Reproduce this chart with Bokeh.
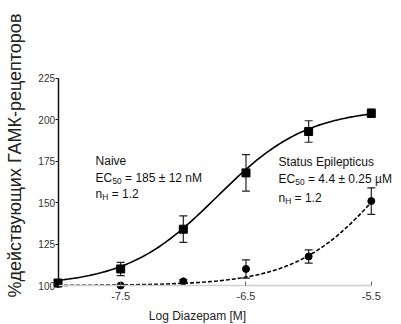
import numpy as np
from math import pi
from bokeh.plotting import figure
from bokeh.models import Label, Whisker, ColumnDataSource, FixedTicker, Range1d, TeeHead
from bokeh.embed import file_html
from bokeh.resources import INLINE

# ---- data ----
log_conc = [-8.0, -7.5, -7.0, -6.5, -6.0, -5.5]
naive_mean = [101.5, 110.0, 134.0, 168.0, 193.0, 204.0]
naive_err = [1.0, 4.0, 8.0, 11.0, 6.5, 2.5]
se_mean = [101.0, 100.0, 102.5, 110.0, 117.5, 151.0]
se_err = [0.5, 0.5, 1.0, 5.5, 4.0, 8.0]

# Hill fits as annotated on the chart
naive_fit = {"bottom": 100.0, "top": 207.0, "log_ec50": np.log10(185e-9), "nh": 1.2}
se_fit = {"bottom": 100.0, "top": 225.0, "log_ec50": np.log10(4.4e-6), "nh": 1.2}

y_ticks = [100, 125, 150, 175, 200, 225]
x_ticks = [-7.5, -6.5, -5.5]

naive_text = ["Naive", "EC", "50", " = 185 \u00b1 12 nM", "n", "H", " = 1.2"]
se_text = ["Status Epilepticus", "EC", "50", " = 4.4 \u00b1 0.25 \u00b5M", "n", "H", " = 1.2"]
y_title = "%действующих ГАМК-рецепторов"
x_title = "Log Diazepam [M]"

FONT = "Liberation Sans"


def hill(x, f):
    return f["bottom"] + (f["top"] - f["bottom"]) / (1 + 10 ** (f["nh"] * (f["log_ec50"] - x)))


# the frame covers the whole canvas; axes sit at fixed data locations
p = figure(width=401, height=324,
           x_range=Range1d(-8.459, -5.259), y_range=Range1d(76.45, 272.1),
           output_backend="svg", toolbar_location=None,
           min_border_left=0, min_border_right=0, min_border_top=0, min_border_bottom=0)
p.outline_line_color = None
p.grid.visible = False
p.background_fill_color = "white"
p.border_fill_color = "white"

# axes
p.yaxis.fixed_location = log_conc[0]
p.xaxis.fixed_location = y_ticks[0]
p.yaxis.bounds = (y_ticks[0], y_ticks[-1])
p.xaxis.bounds = (log_conc[0], log_conc[-1])
p.yaxis.ticker = FixedTicker(ticks=y_ticks)
p.xaxis.ticker = FixedTicker(ticks=x_ticks)
p.yaxis.major_label_overrides = {t: str(t) for t in y_ticks}
p.xaxis.major_label_overrides = {t: str(t) for t in x_ticks}
p.axis.minor_tick_line_color = None
p.yaxis.major_tick_in = 0
p.yaxis.major_tick_out = 3
p.xaxis.major_tick_in = 4
p.xaxis.major_tick_out = 0
p.yaxis.axis_line_color = "#111111"
p.yaxis.axis_line_width = 1.5
p.yaxis.major_tick_line_color = "#111111"
p.xaxis.axis_line_color = "#cfcfcf"
p.xaxis.axis_line_width = 1.5
p.xaxis.major_tick_line_color = "#666666"
p.yaxis.major_label_text_font_size = "10px"
p.xaxis.major_label_text_font_size = "11px"
p.axis.major_label_text_font = FONT
p.axis.major_label_text_color = "#333333"
p.yaxis.major_label_standoff = 0
p.xaxis.major_label_standoff = 6

# fitted curves
xs = np.linspace(log_conc[0], log_conc[-1], 121)
p.line(xs, hill(xs, naive_fit), line_color="black", line_width=1.6)
p.line(xs, hill(xs, se_fit), line_color="black", line_width=1.6, line_dash="4 2")

# error bars
for mean, err in ((naive_mean, naive_err), (se_mean, se_err)):
    src = ColumnDataSource(dict(x=log_conc,
                                upper=[m + e for m, e in zip(mean, err)],
                                lower=[m - e for m, e in zip(mean, err)]))
    w = Whisker(base="x", upper="upper", lower="lower", source=src,
                line_color="#222222", line_width=1.2,
                upper_head=TeeHead(size=8, line_color="#222222", line_width=1.2),
                lower_head=TeeHead(size=8, line_color="#222222", line_width=1.2))
    p.add_layout(w)

# markers
p.scatter(log_conc, se_mean, marker="circle", size=7, color="black")
p.scatter(log_conc, naive_mean, marker="square", size=8, color="black")


def add_block(x0, ys, texts, fs=12):
    sub = fs * 0.7
    kw = dict(text_font=FONT, text_baseline="middle", text_color="#111111")
    p.add_layout(Label(x=x0, y=ys[0], text=texts[0], text_font_size=f"{fs}px", **kw))
    # EC50 line
    p.add_layout(Label(x=x0, y=ys[1], text=texts[1], text_font_size=f"{fs}px", **kw))
    p.add_layout(Label(x=x0, y=ys[1], x_offset=fs * 1.4, y_offset=-3, text=texts[2],
                       text_font_size=f"{sub}px", **kw))
    p.add_layout(Label(x=x0, y=ys[1], x_offset=fs * 1.4 + sub * 1.15 + 3, text=texts[3],
                       text_font_size=f"{fs}px", **kw))
    # nH line
    p.add_layout(Label(x=x0, y=ys[2], text=texts[4], text_font_size=f"{fs}px", **kw))
    p.add_layout(Label(x=x0, y=ys[2], x_offset=fs * 0.56, y_offset=-3, text=texts[5],
                       text_font_size=f"{sub}px", **kw))
    p.add_layout(Label(x=x0, y=ys[2], x_offset=fs * 0.56 + sub * 0.75 + 3, text=texts[6],
                       text_font_size=f"{fs}px", **kw))


add_block(-7.70, [174.9, 165.2, 155.0], naive_text)
add_block(-6.24, [174.3, 164.6, 153.1], se_text)

# axis titles
p.add_layout(Label(x=-8.347, y=178.5, text=y_title, angle=pi / 2, text_align="center",
                   text_baseline="middle", text_font=FONT, text_font_size="18px", text_color="#222222"))
p.add_layout(Label(x=-6.887, y=81.3, text=x_title, text_align="center",
                   text_baseline="middle", text_font=FONT, text_font_size="12px", text_color="#222222"))

open("out.html", "w").write(file_html(p, INLINE))
